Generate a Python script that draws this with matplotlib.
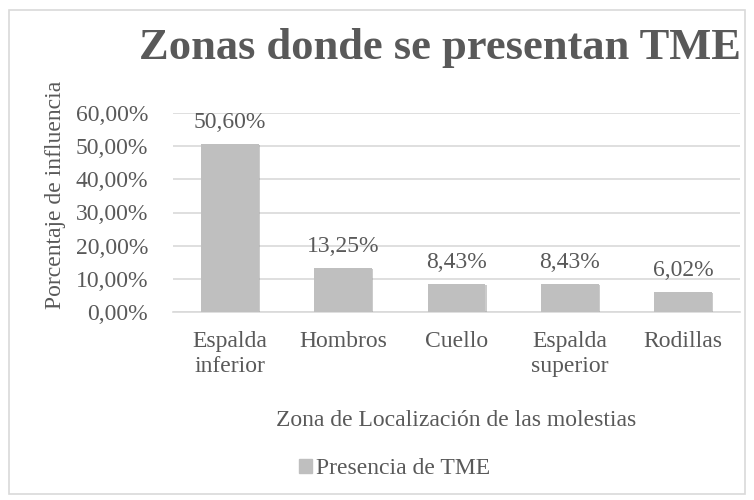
import matplotlib.pyplot as plt
import matplotlib.patches as mpatches
import matplotlib.patheffects as pe
from matplotlib.ticker import FuncFormatter

# data
zonas = ['Espalda\ninferior', 'Hombros', 'Cuello', 'Espalda\nsuperior', 'Rodillas']
valores = [0.5060, 0.1325, 0.0843, 0.0843, 0.0602]
yticks = [0, 0.1, 0.2, 0.3, 0.4, 0.5, 0.6]

txt = '#595959'
fs = 17
plt.rcParams['font.family'] = ['Liberation Serif', 'DejaVu Serif']

fig = plt.figure(figsize=(7.54, 5.0), dpi=100)
ax = fig.add_axes([0.2294, 0.376, 0.752, 0.398])

# chart border
fig.patches.append(mpatches.Rectangle((0.012, 0.012), 0.976, 0.968, transform=fig.transFigure,
                                      fill=False, edgecolor='#d9d9d9', linewidth=1.2))

x = range(len(zonas))
bars = ax.bar(x, valores, width=0.51, color='#bfbfbf', zorder=3, label='Presencia de TME')
for b in bars:
    b.set_path_effects([pe.SimplePatchShadow(offset=(0.8, -0.8), shadow_rgbFace='#999999', alpha=0.5),
                        pe.Normal()])

def fmt(v):
    return f'{v*100:.2f}%'.replace('.', ',')

for i, v in enumerate(valores):
    ax.annotate(fmt(v), (i, v), xytext=(0, 8), textcoords='offset points',
                ha='center', va='bottom', fontsize=fs, color=txt)

ax.set_xlim(-0.5, len(zonas) - 0.5)
ax.set_ylim(0, 0.6)
ax.set_yticks(yticks)
ax.yaxis.set_major_formatter(FuncFormatter(lambda v, p: fmt(v)))
ax.set_xticks(list(x))
ax.set_xticklabels(zonas, fontsize=fs, color=txt, linespacing=1.2)
ax.tick_params(axis='y', labelsize=fs, labelcolor=txt, length=0, pad=18)
ax.tick_params(axis='x', length=0, pad=14)
ax.grid(axis='y', color='#d9d9d9', linewidth=1.2, zorder=0)
for s in ['top', 'right', 'left']:
    ax.spines[s].set_visible(False)
ax.spines['bottom'].set_color('#d9d9d9')
ax.spines['bottom'].set_linewidth(1.2)

# y title sits higher than the plot centre, as in the reference
fig.text(0.073, 0.61, 'Porcentaje de influencia', rotation=90, ha='center', va='center',
         fontsize=fs, color=txt)
ax.set_xlabel('Zona de Localización de las molestias', fontsize=fs, color=txt, labelpad=24)

fig.text(0.583, 0.904, 'Zonas donde se presentan TME', ha='center', va='center',
         fontsize=32, fontweight='bold', color=txt)

fig.legend(handles=[mpatches.Patch(color='#bfbfbf', label='Presencia de TME')],
           loc='center', bbox_to_anchor=(0.523, 0.062), frameon=False, fontsize=fs,
           labelcolor=txt, handlelength=0.55, handleheight=0.55, handletextpad=0.15)

fig.savefig('out.png', dpi=100)
